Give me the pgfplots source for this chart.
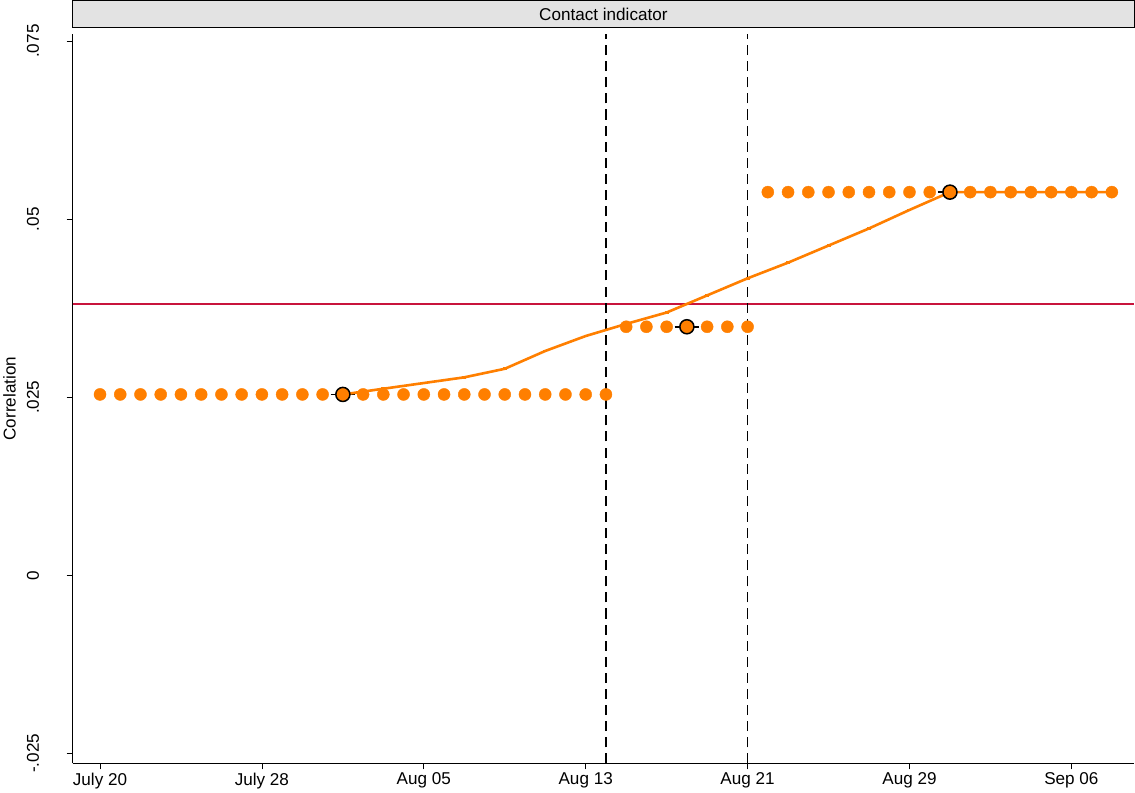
\documentclass[border=0pt]{standalone}
\usepackage{pgfplots}
\pgfplotsset{compat=1.18}
\usepackage{fontspec}
\setmainfont{Liberation Sans}
\definecolor{org}{RGB}{255,127,0}
\definecolor{redl}{RGB}{200,20,60}
\begin{document}
\begin{tikzpicture}[x=1pt,y=1pt]
\begin{axis}[
  scale only axis, width=1055pt, height=725pt,
  xmin=-1.35, xmax=51.1, ymin=-0.0264, ymax=0.0760,
  scaled y ticks=false,
  axis x line*=bottom, axis y line*=left,
  axis line style={-, line width=0.8pt},
  xtick={0,8,16,24,32,40,48},
  xticklabels={July 20,July 28,Aug 05,Aug 13,Aug 21,Aug 29,Sep 06},
  ytick={-0.025,0,0.025,0.05,0.075},
  yticklabels={-.025,0,.025,.05,.075},
  yticklabel style={rotate=90, anchor=south, yshift=24pt},
  tick align=outside, major tick length=6pt,
  tick style={black, line width=0.8pt},
  ticklabel style={font=\fontsize{17}{20}\selectfont},
  ylabel={Correlation}, ylabel style={font=\fontsize{17}{20}\selectfont, yshift=4pt},
  title={Contact indicator},
  title style={at={(0.5,1)}, anchor=south, fill=gray!22, draw=black, line width=0.8pt,
    minimum width=1055pt, minimum height=27pt, inner sep=0pt, yshift=0pt,
    font=\fontsize{17}{20}\selectfont},
  clip=false,
]
\addplot[color=redl, line width=1.8pt] coordinates {(-1.35,0.0381) (51.1,0.0381)};
\addplot[color=black, line width=1.8pt, dash pattern=on 10pt off 6pt] coordinates {(25,-0.0264) (25,0.076)};
\addplot[color=black, line width=1.8pt, dash pattern=on 10pt off 6pt] coordinates {(32,-0.0264) (32,0.076)};
\addplot[only marks, mark=*, mark size=6pt, color=org, mark options={draw=org,fill=org}] table[row sep=\\] {
x y\\
0 0.0254\\1 0.0254\\2 0.0254\\3 0.0254\\4 0.0254\\5 0.0254\\6 0.0254\\7 0.0254\\8 0.0254\\9 0.0254\\
10 0.0254\\11 0.0254\\13 0.0254\\14 0.0254\\15 0.0254\\16 0.0254\\17 0.0254\\18 0.0254\\19 0.0254\\
20 0.0254\\21 0.0254\\22 0.0254\\23 0.0254\\24 0.0254\\25 0.0254\\
26 0.0349\\27 0.0349\\28 0.0349\\30 0.0349\\31 0.0349\\32 0.0349\\
33 0.0538\\34 0.0538\\35 0.0538\\36 0.0538\\37 0.0538\\38 0.0538\\39 0.0538\\40 0.0538\\41 0.0538\\
43 0.0538\\44 0.0538\\45 0.0538\\46 0.0538\\47 0.0538\\48 0.0538\\49 0.0538\\50 0.0538\\
};
\addplot[color=black, line width=1.5pt] coordinates {(11.4,0.0254) (12.6,0.0254)};
\addplot[color=black, line width=1.5pt] coordinates {(28.4,0.0349) (29.6,0.0349)};
\addplot[color=black, line width=1.5pt] coordinates {(41.4,0.0538) (42.6,0.0538)};
\addplot[color=org, line width=2.6pt, mark=-, mark size=2pt] table[row sep=\\] {
x y\\
12 0.0254\\14 0.0262\\16 0.0270\\18 0.0278\\20 0.0290\\22 0.0315\\24 0.0336\\26 0.0353\\28 0.0369\\
30 0.0393\\32 0.0417\\34 0.0439\\36 0.0463\\38 0.0487\\40 0.0513\\42 0.0538\\44 0.0538\\46 0.0538\\48 0.0538\\50 0.0538\\
};
\addplot[only marks, mark=*, mark size=7pt, mark options={draw=black, fill=org, line width=1.5pt}] coordinates {(12,0.0254) (29,0.0349) (42,0.0538)};
\end{axis}
\path (current axis.north) -- ++(0,18pt);
\path (current axis.west) -- ++(-6pt,0);
\end{tikzpicture}
\end{document}
